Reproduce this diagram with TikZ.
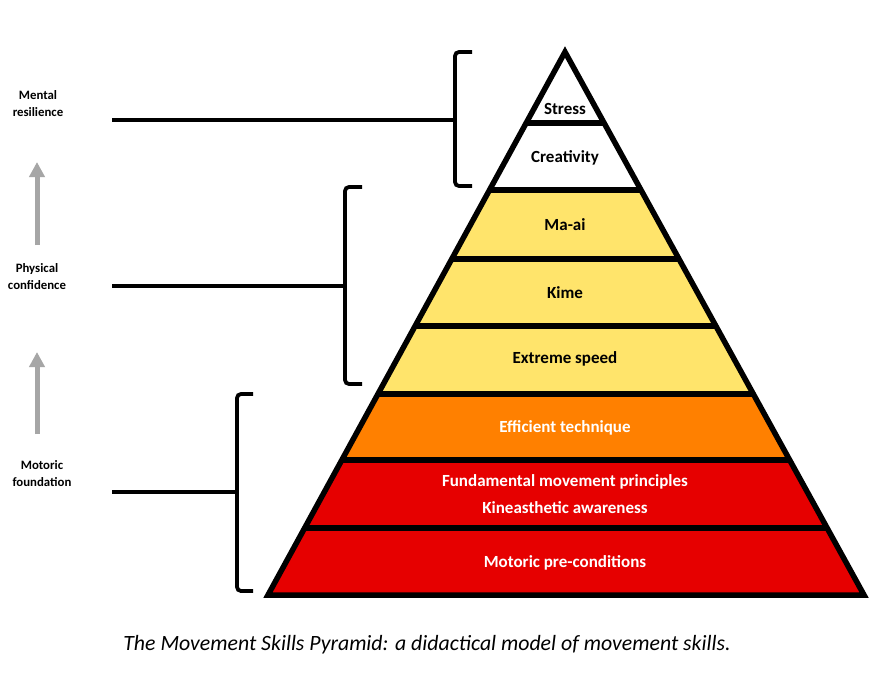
\documentclass[tikz,border=0pt]{standalone}
\usepackage{fontspec}
\setmainfont{Carlito}
\usetikzlibrary{calc,arrows.meta}
\definecolor{lyellow}{HTML}{FFE46B}
\definecolor{lorange}{HTML}{FF8000}
\definecolor{lred}{HTML}{E60000}
\definecolor{agray}{HTML}{A6A6A6}
\tikzset{
  layertext/.style={font=\fontsize{17}{20}\selectfont\bfseries, inner sep=0pt, anchor=center},
  sidetext/.style={font=\fontsize{12.8}{17}\selectfont\bfseries, align=center, inner sep=0pt},
  outline/.style={line width=5.5pt, line join=miter},
  bracket/.style={line width=3.8pt, rounded corners=4pt},
  leader/.style={line width=3.8pt},
  uparrow/.style={line width=5pt, agray, -{Triangle[width=15pt,length=15pt]}},
}
\begin{document}
\begin{tikzpicture}[x=1pt,y=-1pt]
\path[use as bounding box, fill=white] (0,0) rectangle (893,682);
% pyramid corners
\coordinate (A) at (565,52);
\coordinate (L) at (268,595);
\coordinate (R) at (864,595);
\foreach \n/\t in {1/0.13076,2/0.25414,3/0.38122,4/0.50460,5/0.62983,6/0.75138,7/0.87661}{
  \coordinate (L\n) at ($(A)!\t!(L)$);
  \coordinate (R\n) at ($(A)!\t!(R)$);
}
% fills
\fill[white] (A) -- (L1) -- (R1) -- cycle;
\fill[white] (L1) -- (L2) -- (R2) -- (R1) -- cycle;
\fill[lyellow] (L2) -- (L5) -- (R5) -- (R2) -- cycle;
\fill[lorange] (L5) -- (L6) -- (R6) -- (R5) -- cycle;
\fill[lred] (L6) -- (L) -- (R) -- (R6) -- cycle;
% divider lines
\foreach \n in {1,...,7}{ \draw[outline] (L\n) -- (R\n); }
\draw[outline] (A) -- (L) -- (R) -- cycle;
% layer texts
\node[layertext] (t1) at (565,109) {Stress};
\node[layertext] (t2) at (565,158) {Creativity};
\node[layertext] (t3) at (565,225) {Ma-ai};
\node[layertext] (t4) at (565,293) {Kime};
\node[layertext] (t5) at (565,359) {Extreme speed};
\node[layertext, white] (t6) at (565,428) {Efficient technique};
\node[layertext, white] (t7) at (565,482) {Fundamental movement principles};
\node[layertext, white] (t8) at (565,508) {Kineasthetic awareness};
\node[layertext, white] (t9) at (565,563) {Motoric pre-conditions};
% brackets
\draw[bracket] (472,52) -- (455,52) -- (455,186) -- (472,186);
\draw[bracket] (362,187) -- (345,187) -- (345,384) -- (362,384);
\draw[bracket] (253,394) -- (237,394) -- (237,591) -- (253,591);
\coordinate (b1) at (455,120);
\coordinate (b2) at (345,286);
\coordinate (b3) at (237,492);
\coordinate (s1) at (112,120);
\coordinate (s2) at (112,286);
\coordinate (s3) at (112,492);
\draw[leader] (s1) -- (b1);
\draw[leader] (s2) -- (b2);
\draw[leader] (s3) -- (b3);
% side labels
\node[sidetext] (m1) at (38,104) {Mental\\resilience};
\node[sidetext] (m2) at (37,277) {Physical\\confidence};
\node[sidetext] (m3) at (42,474) {Motoric\\foundation};
\coordinate (a1s) at (37,245);
\coordinate (a1e) at (37,162);
\coordinate (a2s) at (37,434);
\coordinate (a2e) at (37,352);
\draw[uparrow] (a1s) -- (a1e);
\draw[uparrow] (a2s) -- (a2e);
% caption
\node[font=\fontsize{21.8}{26}\selectfont\itshape, inner sep=0pt] (cap) at (427,645) {The Movement Skills Pyramid: a didactical model of movement skills.};
\end{tikzpicture}
\end{document}
